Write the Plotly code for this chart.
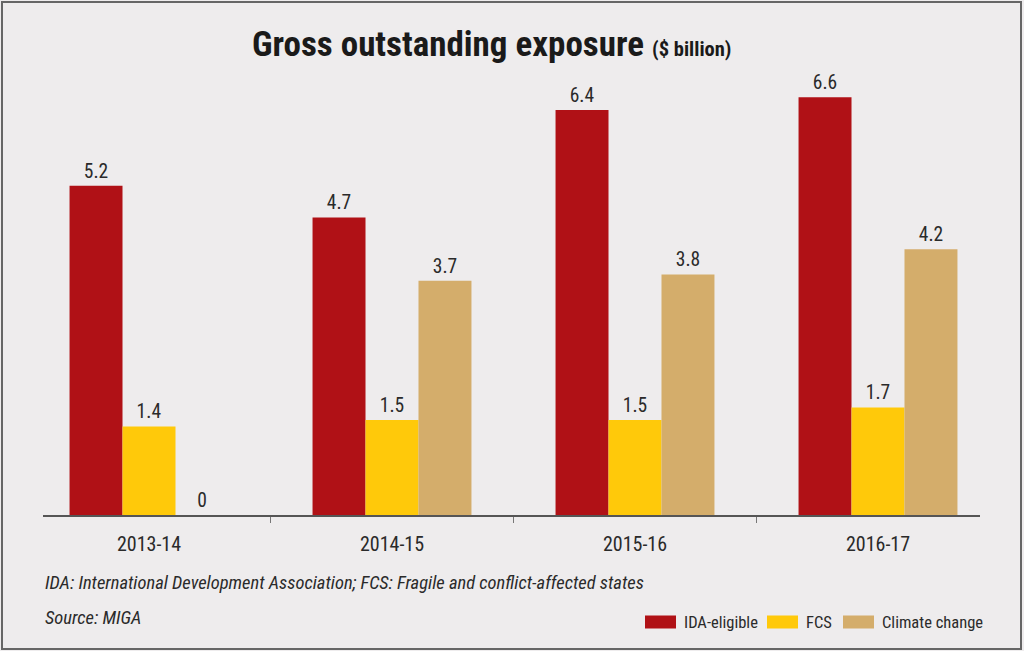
import plotly.graph_objects as go

years = ["2013-14", "2014-15", "2015-16", "2016-17"]
ida_eligible = [5.2, 4.7, 6.4, 6.6]
fcs = [1.4, 1.5, 1.5, 1.7]
climate_change = [0, 3.7, 3.8, 4.2]

series_names = ["IDA-eligible", "FCS", "Climate change"]
colors = ["#B01116", "#FFC90A", "#D4AD6B"]

W, H = 1024, 651
FONT = "Roboto Condensed, Liberation Sans Narrow, Arial Narrow, Liberation Sans, sans-serif"
TXT = "#2a2a2a"

fig = go.Figure()
for name, vals, col in zip(series_names, [ida_eligible, fcs, climate_change], colors):
    fig.add_trace(go.Bar(
        x=years, y=vals, name=name, marker=dict(color=col, line=dict(width=0)),
        text=[f"{v:g}" for v in vals], textposition="outside",
        textfont=dict(family=FONT, size=19.5, color=TXT),
        cliponaxis=False, showlegend=False,
    ))

left, right, top, bottom = 43, 980, 80, 515
px_per_unit = 63.3
cat_px = 243.0
x0 = (left - 149) / cat_px
x1 = (right - 149) / cat_px
pw, ph = right - left, bottom - top


def px(xp):
    return (xp - left) / pw


def py(yp):
    return (bottom - yp) / ph


fig.update_layout(
    width=W, height=H,
    margin=dict(l=left, r=W - right, t=top, b=H - bottom, pad=0),
    paper_bgcolor="#EEECED", plot_bgcolor="#EEECED",
    barmode="group", bargap=0.346, bargroupgap=0,
    showlegend=False,
    xaxis=dict(
        range=[x0, x1], showgrid=False, showline=True, linecolor="#555", linewidth=1.5,
        ticks="outside", tickson="boundaries", ticklen=6, tickcolor="#777", tickwidth=1,
        ticklabelstandoff=10,
        tickfont=dict(family=FONT, size=20, color=TXT), zeroline=False,
    ),
    yaxis=dict(range=[0, ph / px_per_unit], visible=False, showgrid=False, zeroline=False),
    font=dict(family=FONT),
)

fig.add_annotation(
    xref="paper", yref="paper", x=px(491), y=py(44),
    xanchor="center", yanchor="middle", showarrow=False,
    text="<b>Gross outstanding exposure</b> <b><span style='font-size:20.5px'>($ billion)</span></b>",
    font=dict(family="Roboto Condensed, Liberation Sans Narrow, sans-serif", size=35, color="#1a1a1a", weight=900),
)
fig.add_annotation(
    xref="paper", yref="paper", x=0, y=py(583),
    xanchor="left", yanchor="middle", showarrow=False,
    text="<i>IDA: International Development Association; FCS: Fragile and conflict-affected states</i>",
    font=dict(family=FONT, size=18.5, color=TXT),
)
fig.add_annotation(
    xref="paper", yref="paper", x=0, y=py(618),
    xanchor="left", yanchor="middle", showarrow=False,
    text="<i>Source: MIGA</i>",
    font=dict(family=FONT, size=18.5, color=TXT),
)

# legend (swatches + labels)
swatch_x = [645, 767, 843]
swatch_w = 31
for name, col, sx in zip(series_names, colors, swatch_x):
    fig.add_shape(type="rect", xref="paper", yref="paper",
                  x0=px(sx), x1=px(sx + swatch_w), y0=py(628.5), y1=py(615.5),
                  line=dict(width=0), fillcolor=col)
    fig.add_annotation(xref="paper", yref="paper", x=px(sx + swatch_w + 6), y=py(622),
                       xanchor="left", yanchor="middle", showarrow=False,
                       text=name, font=dict(family=FONT, size=16.5, color=TXT))

# outer frame
fig.add_shape(type="rect", xref="paper", yref="paper",
              x0=px(2), x1=px(1021), y0=py(649), y1=py(2),
              line=dict(color="#666", width=2), fillcolor="rgba(0,0,0,0)", layer="below")

fig.write_html("out.html", config={"displayModeBar": False},
               post_script="document.body.style.margin='0';")
